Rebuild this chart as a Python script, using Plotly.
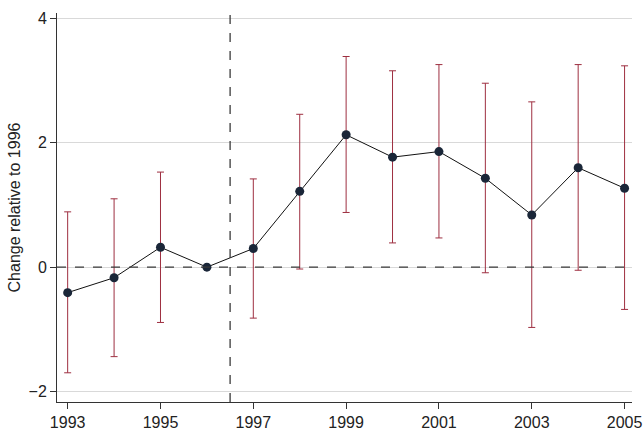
import numpy as np
import plotly.graph_objects as go

# Event-study estimates relative to 1996
years = [1993, 1994, 1995, 1996, 1997, 1998, 1999, 2000, 2001, 2002, 2003, 2004, 2005]
coef = [-0.41, -0.17, 0.32, 0.0, 0.30, 1.22, 2.13, 1.77, 1.86, 1.43, 0.84, 1.60, 1.27]
ci_hi = [0.89, 1.10, 1.53, None, 1.42, 2.46, 3.39, 3.16, 3.26, 2.96, 2.66, 3.26, 3.24]
ci_lo = [-1.70, -1.44, -0.89, None, -0.82, -0.03, 0.88, 0.39, 0.47, -0.09, -0.97, -0.05, -0.68]
x_ticks = [1993, 1995, 1997, 1999, 2001, 2003, 2005]
y_ticks = [-2, 0, 2, 4]
event_line = 1996.5

fig = go.Figure()

# confidence intervals
err_plus = [h - c if h is not None else None for h, c in zip(ci_hi, coef)]
err_minus = [c - l if l is not None else None for l, c in zip(ci_lo, coef)]
fig.add_trace(go.Scatter(
    x=years, y=coef, mode="markers",
    marker=dict(size=0.1, color="rgba(0,0,0,0)"),
    error_y=dict(type="data", symmetric=False, array=err_plus, arrayminus=err_minus,
                 color="#9e2f40", thickness=1, width=3.5),
    showlegend=False, hoverinfo="skip"))

# point estimates
fig.add_trace(go.Scatter(
    x=years, y=coef, mode="lines+markers",
    line=dict(color="#111111", width=1),
    marker=dict(size=9, color="#1a2638"),
    showlegend=False))

fig.add_hline(y=0, line=dict(color="#3a3a3a", width=1.3, dash="dash"), opacity=1)
fig.add_shape(type="line", x0=event_line, x1=event_line, xref="x", yref="paper",
              y0=0, y1=1.015, line=dict(color="#3a3a3a", width=1.3, dash="dash"), opacity=1)

fig.update_xaxes(range=[1992.77, 2005.16], tickvals=x_ticks, ticks="outside", ticklen=6,
                 tickcolor="#333333", showline=True, linecolor="#333333", linewidth=1,
                 showgrid=False, zeroline=False, automargin=False,
                 tickfont=dict(size=16, color="#222222"))
fig.update_yaxes(range=[-2.17, 4.09], tickvals=y_ticks, ticks="outside", ticklen=6,
                 tickcolor="#333333", showline=True, linecolor="#333333", linewidth=1,
                 showgrid=True, gridcolor="#d9d9d9", gridwidth=1, zeroline=False,
                 automargin=False,
                 title=dict(text="Change relative to 1996", font=dict(size=16, color="#222222"),
                            standoff=3),
                 tickfont=dict(size=16, color="#222222"))
fig.update_layout(width=643, height=437,
                  font=dict(family="Liberation Sans, Arial, sans-serif"),
                  margin=dict(l=57, r=11, t=13, b=35),
                  plot_bgcolor="white", paper_bgcolor="white")

fig.write_html("out.html", config={"displayModeBar": False},
               post_script="document.body.style.margin='0';")
